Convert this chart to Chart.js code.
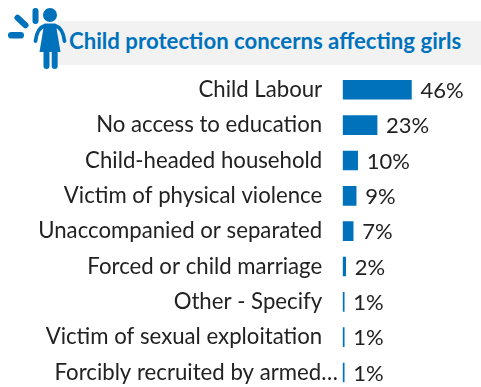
<!DOCTYPE html>
<html>
<head>
<meta charset="utf-8">
<title>Child protection concerns affecting girls</title>
<script src="https://cdn.jsdelivr.net/npm/chart.js@4/dist/chart.umd.min.js"></script>
<style>
  html, body { margin: 0; padding: 0; background: #fff; overflow: hidden; }
  #page { position: relative; width: 481px; height: 387px; overflow: hidden; font-family: Lato, sans-serif; }
  #band { position: absolute; left: 58px; top: 21px; width: 423px; height: 44px; background: #f2f2f2; }
  #heading { position: absolute; left: 69px; top: 26px; margin: 0; font-size: 22.2px; line-height: 30px; font-weight: 700; color: #0072bc; white-space: nowrap; }
  #icon { position: absolute; left: 0; top: 0; }
  #chartWrap { position: absolute; left: 0; top: 0; width: 481px; height: 424px; }
</style>
</head>
<body>
<div id="page">
  <div id="band"></div>
  <h1 id="heading">Child protection concerns affecting girls</h1>
  <svg id="icon" width="70" height="72" viewBox="0 0 70 72" fill="#0072bc">
    <circle cx="50" cy="15" r="7"/>
    <rect x="32.500" y="8" width="6" height="16" rx="3"/>
    <rect x="18.500" y="13" width="6" height="17" rx="3" transform="rotate(-47 21.500 21.500)"/>
    <rect x="8" y="32" width="16" height="6.500" rx="3.200"/>
    <!-- arms and dress -->
    <path d="M35.500 41 C36.500 32 40 27 45 25.500 H55 C60 27 63.500 32 64.500 41" fill="none" stroke="#0072bc" stroke-width="3.800" stroke-linecap="round"/>
    <path d="M44 25 H56 L60.500 52 H39.500 Z"/>
    <rect x="43.500" y="50" width="6" height="19" rx="3"/>
    <rect x="51.700" y="50" width="6" height="19" rx="3"/>
  </svg>
  <div id="chartWrap"><canvas id="concernsChart"></canvas></div>
</div>
<script>
const CATEGORIES = [
  "Child Labour",
  "No access to education",
  "Child-headed household",
  "Victim of physical violence",
  "Unaccompanied or separated",
  "Forced or child marriage",
  "Other - Specify",
  "Victim of sexual exploitation",
  "Forcibly recruited by armed…"
];
const VALUES = [46, 23, 10, 9, 7, 2, 1, 1, 1];

const LONG_LABEL = CATEGORIES.length - 1;

// value labels beside the bars, plus the clipped last category which runs past the others
const barLabels = {
  id: 'barLabels',
  afterDatasetsDraw(chart) {
    const ctx = chart.ctx;
    const bars = chart.getDatasetMeta(0).data;
    ctx.save();
    ctx.fillStyle = '#222222';
    ctx.textAlign = 'left';
    ctx.textBaseline = 'middle';
    ctx.font = '22px Lato, sans-serif';
    bars.forEach((bar, i) => {
      ctx.fillText(VALUES[i] + '%', bar.x + 9, bar.y + 1);
    });
    ctx.font = '22.2px Lato, sans-serif';
    ctx.fillText(CATEGORIES[LONG_LABEL], 54.5, bars[LONG_LABEL].y);
    ctx.restore();
  }
};

new Chart(document.getElementById('concernsChart'), {
  type: 'bar',
  plugins: [barLabels],
  data: {
    labels: CATEGORIES,
    datasets: [{
      data: VALUES,
      backgroundColor: '#0072bc',
      barThickness: 19
    }]
  },
  options: {
    indexAxis: 'y',
    responsive: true,
    maintainAspectRatio: false,
    animation: false,
    layout: { padding: { top: 72.1, bottom: 10.4, left: 0, right: 0 } },
    plugins: { legend: { display: false }, tooltip: { enabled: false } },
    scales: {
      x: { display: false, min: 0, max: 92.6 },
      y: {
        afterFit(scale) { scale.width = 342.7; },
        grid: { display: false, drawTicks: false },
        border: { display: false },
        ticks: {
          autoSkip: false,
          padding: 20.5,
          color: '#222222',
          font: { family: 'Lato, sans-serif', size: 22.2 },
          callback(value, index) {
            return index === LONG_LABEL ? '' : this.getLabelForValue(value);
          }
        }
      }
    }
  }
});
</script>
</body>
</html>
